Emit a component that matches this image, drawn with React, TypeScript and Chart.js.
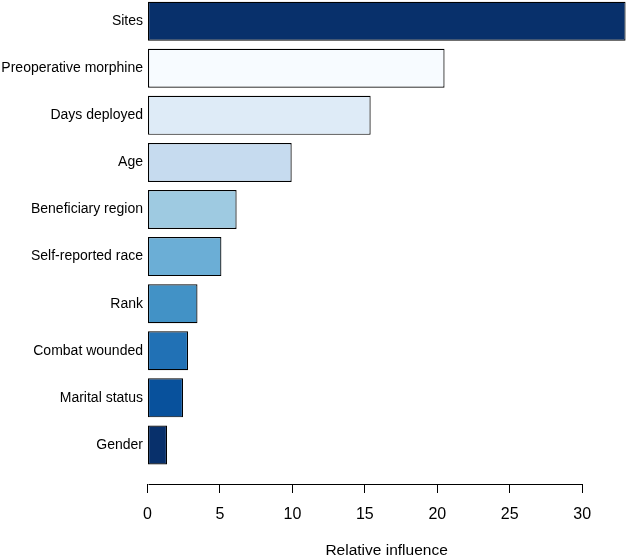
import React, { useEffect, useRef } from "react";
import { Chart, registerables } from "chart.js";

Chart.register(...registerables);

const categories = [
  "Sites",
  "Preoperative morphine",
  "Days deployed",
  "Age",
  "Beneficiary region",
  "Self-reported race",
  "Rank",
  "Combat wounded",
  "Marital status",
  "Gender",
];

const influence = [33.0, 20.5, 15.4, 9.95, 6.15, 5.1, 3.45, 2.8, 2.45, 1.35];

const barColors = [
  "#08306b",
  "#f7fbff",
  "#deebf7",
  "#c6dbef",
  "#9ecae1",
  "#6baed6",
  "#4292c6",
  "#2171b5",
  "#08519c",
  "#08306b",
];

const xTickMax = 30;
const xTitle = "Relative influence";

const FONT = "'Liberation Sans', Arial, Helvetica, sans-serif";

const axisLinePlugin = {
  id: "axisLine",
  afterDraw(chart: any) {
    const x = chart.scales.x;
    const { ctx, chartArea } = chart;
    const y = Math.round(chartArea.bottom) + 0.5;
    ctx.save();
    ctx.strokeStyle = "#000";
    ctx.lineWidth = 1;
    ctx.beginPath();
    ctx.moveTo(Math.round(x.getPixelForValue(0)) + 0.5, y);
    ctx.lineTo(Math.round(x.getPixelForValue(xTickMax)) + 0.5, y);
    ctx.stroke();
    ctx.restore();
  },
};

export default function App() {
  const ref = useRef<HTMLCanvasElement | null>(null);

  useEffect(() => {
    if (!ref.current) return;
    const chart = new Chart(ref.current, {
      type: "bar",
      data: {
        datasets: [
          {
            data: influence.map((v, i) => ({ x: v, y: i })),
            backgroundColor: barColors,
            borderColor: "#000",
            borderWidth: 1.2,
            borderSkipped: false,
            categoryPercentage: 1,
            barPercentage: 0.828,
          },
        ],
      },
      options: {
        indexAxis: "y",
        animation: false,
        responsive: true,
        maintainAspectRatio: false,
        layout: { padding: { left: 0, right: 2.3, top: 0, bottom: 0 } },
        plugins: {
          legend: { display: false },
          tooltip: { enabled: false },
        },
        scales: {
          x: {
            type: "linear",
            min: 0,
            max: 33,
            border: { display: false },
            grid: {
              drawOnChartArea: false,
              drawTicks: true,
              tickLength: 9,
              color: "#000",
              lineWidth: 1,
            },
            ticks: {
              stepSize: 5,
              color: "#000",
              padding: 12,
              maxRotation: 0,
              font: { family: FONT, size: 16 },
            },
            afterBuildTicks: (scale: any) => {
              scale.ticks = scale.ticks.filter((t: any) => t.value <= xTickMax);
            },
            afterFit: (scale: any) => {
              scale.height = 75;
              scale.paddingLeft = 0;
              scale.paddingRight = 0;
            },
            title: {
              display: true,
              text: xTitle,
              color: "#000",
              padding: { top: 0, bottom: -1.5 },
              font: { family: FONT, size: 15.5 },
            },
          },
          y: {
            type: "linear",
            reverse: true,
            offset: false,
            min: -0.45,
            max: 9.83,
            border: { display: false },
            grid: { display: false, drawTicks: false },
            afterBuildTicks: (scale: any) => {
              scale.ticks = categories.map((_, i) => ({ value: i }));
            },
            ticks: {
              color: "#000",
              padding: 4.5,
              autoSkip: false,
              font: { family: FONT, size: 14 },
              callback: (v: any) => categories[Math.round(Number(v))] ?? "",
            },
            afterFit: (scale: any) => {
              scale.width = 147.5;
              scale.paddingTop = 0;
              scale.paddingBottom = 0;
            },
          },
        },
      },
      plugins: [axisLinePlugin],
    });
    return () => chart.destroy();
  }, []);

  return (
    <div style={{ position: "fixed", left: 0, top: 0, width: 628, height: 559, background: "#fff" }}>
      <canvas ref={ref} />
    </div>
  );
}
